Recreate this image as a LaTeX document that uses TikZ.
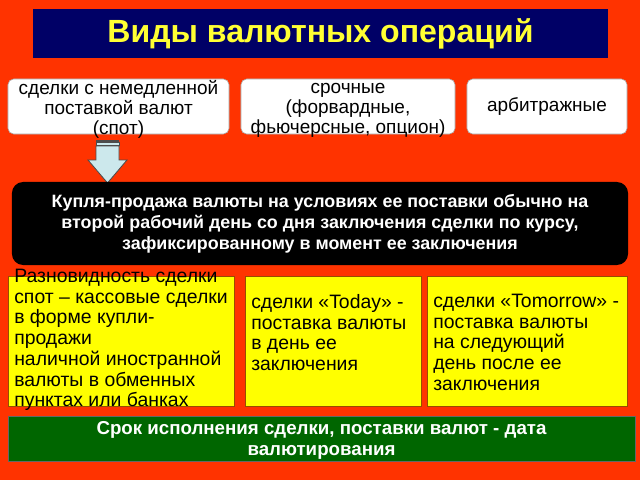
\documentclass[tikz,border=0pt]{standalone}
\usepackage{fontspec}
\setmainfont{Liberation Sans}
\definecolor{bgred}{HTML}{FF3300}
\definecolor{titleblue}{HTML}{000066}
\definecolor{titleyellow}{HTML}{FFFF33}
\definecolor{boxyellow}{HTML}{FFFF00}
\definecolor{boxgreen}{HTML}{006600}
\definecolor{arrowblue}{HTML}{CCE8EC}
\tikzset{
  whitebox/.style={draw=gray!70, fill=white, rounded corners=4pt, inner sep=0pt, minimum height=1.375cm},
  whitetext/.style={align=center, inner sep=0pt, font=\fontsize{13.5}{14}\selectfont},
  yellowbox/.style={draw=black!40!orange, fill=boxyellow, inner sep=0pt, minimum height=3.25cm},
  yellowtext/.style={align=left, inner sep=0pt, font=\fontsize{13.8}{14.7}\selectfont},
  arrowpart/.style={draw=black!70, fill=arrowblue, line width=0.6pt}
}
\begin{document}
\begin{tikzpicture}[x=0.025cm,y=-0.025cm]
\fill[bgred] (0,0) rectangle (640,480);
\useasboundingbox (0,0) rectangle (640,480);
% title
\node[fill=titleblue, minimum width=14.375cm, minimum height=1.225cm, text=titleyellow,
  font=\fontsize{22.8}{24}\selectfont\bfseries] (title) at (320.5,33.5) {Виды валютных операций};
% kinds
\node[whitebox, minimum width=5.525cm] (spot) at (118.5,106.5) {};
\node[whitebox, minimum width=5.35cm] (term) at (348,106.5) {};
\node[whitebox, minimum width=4.0cm] (arb) at (547,106.5) {};
\node[whitetext] (spottext) at (118.5,109.5) {сделки с немедленной\\поставкой валют\\(спот)};
\node[whitetext] (termtext) at (348,110.5) {срочные\\(форвардные,\\фьючерсные, опцион)};
\node[whitetext] (arbtext) at (547,107) {арбитражные};
% arrow
\fill[black!70] (96,139.5) rectangle (119,141.5);
\draw[arrowpart] (96,142.5) rectangle (119,145);
\draw[arrowpart] (96,146) -- (119,146) -- (119,160) -- (127,160) -- (107.5,183)
  -- (88,160) -- (96,160) -- cycle;
% definition
\node[fill=black, rounded corners=8pt, minimum width=15.4cm, minimum height=2.075cm, text=white,
  align=center, font=\fontsize{12.7}{15}\selectfont\bfseries] (def) at (320,223.5)
  {Купля-продажа валюты на условиях ее поставки обычно на\\второй рабочий день со дня заключения сделки по курсу,\\зафиксированному в момент ее заключения};
% varieties
\node[yellowbox, minimum width=5.65cm] (cash) at (121,341) {};
\node[yellowbox, minimum width=4.4cm] (today) at (333,341) {};
\node[yellowbox, minimum width=5.0cm] (tomorrow) at (527,341) {};
\node[yellowtext, anchor=west] (cashtext) at (14,340) {Разновидность сделки\\спот -- кассовые сделки\\в форме купли-\\продажи\\наличной иностранной\\валюты в обменных\\пунктах или банках};
\node[yellowtext, anchor=north west] (todaytext) at (251,294) {сделки «Today» -\\поставка валюты\\в день ее\\заключения};
\node[yellowtext, anchor=north west] (tomorrowtext) at (433,294) {сделки «Tomorrow» -\\поставка валюты\\на следующий\\день после ее\\заключения};
% value date
\node[fill=boxgreen, draw=black!60, minimum width=15.675cm, minimum height=1.125cm, inner sep=0pt] (date) at (321.5,438.5) {};
\node[text=white, align=center, inner sep=0pt, font=\fontsize{13.3}{15.5}\selectfont\bfseries]
  (datetext) at (321.5,440.5) {Срок исполнения сделки, поставки валют - дата\\валютирования};
\end{tikzpicture}
\end{document}
